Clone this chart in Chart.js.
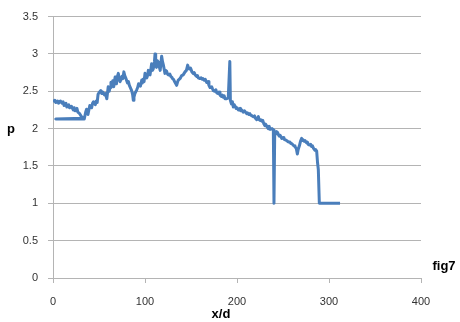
<!DOCTYPE html>
<html>
<head>
<meta charset="utf-8">
<script src="https://cdn.jsdelivr.net/npm/chart.js@4"></script>
<style>
  html,body{margin:0;padding:0;background:#fff;}
  #wrap{width:460px;height:322px;position:relative;}
</style>
</head>
<body>
<div id="wrap"><canvas id="chart" width="460" height="322"></canvas></div>
<script>
// fig7: p along x/d
const xd = [0, 2, 3, 5, 6, 8, 10, 11, 12, 14, 15, 17, 18, 20, 22, 23, 24, 26, 27, 29, 31, 33,
  3, 18, 34, 35.5, 36.5, 38, 39, 40, 42, 43, 44, 46, 47, 48, 49, 50, 52, 53, 54, 56, 57, 58.5, 60, 61, 62, 63, 64, 65, 66, 67.5, 68, 69, 70, 71, 72, 73, 75, 76, 77, 78, 79,
  81, 82, 83, 85.5, 86.5, 87.3, 88, 89, 91, 92, 93, 95, 96.5, 97, 98, 99, 100, 102, 103, 103.6, 104.5, 105.5, 107.2, 108, 109, 110.3, 110.9, 111.6, 112.5, 113.5, 114.5,
  115.5, 116.5, 118.1, 119, 120, 121.7, 122.5, 123.5, 124.5, 125.4, 127, 128, 129, 130, 131, 132.6, 133.5, 134.4, 135.3, 136.2, 138, 139, 139.9, 141.5, 142.5, 143.5,
  145, 146.4, 147, 148, 149.5, 151, 152.5, 153.5, 154.5, 156.2, 157, 158, 159.8, 161, 162, 163, 164, 165.5, 167, 168.5, 169.5, 170.7, 172.5, 173.5, 174.3,
  176, 177, 178, 179.7, 180.5, 181.5, 183.3, 184, 185, 186, 187, 188.8, 190.5, 192.2, 192.8, 194, 195, 196, 197, 198, 199, 200, 201.5, 203.3, 204, 205,
  207, 208, 210.5, 211.5, 213, 214, 215, 216.5, 217.8, 219, 220, 221.5, 223.2, 224, 225, 226, 227, 228, 229, 230.4, 231, 232, 233, 234, 235, 236, 238, 239.5, 240.2, 241,
  242.4, 243, 244, 245, 246, 247, 248.6, 250, 251, 252.5, 253.8, 255, 255.8, 257.5, 258.5, 259.4, 261, 262, 263, 264.5, 265.6, 266.5, 267.8, 269, 270.3,
  271, 272, 273, 274, 275.5, 276.5, 277.5, 279, 280, 281, 282, 283, 284.8, 285.5, 286.6, 287.5, 288.4, 289.5, 300, 312];
const pVals = [2.36, 2.38, 2.35, 2.37, 2.34, 2.37, 2.34, 2.36, 2.31, 2.34, 2.29, 2.32, 2.28, 2.3, 2.25, 2.28, 2.24, 2.27, 2.22, 2.2, 2.16, 2.14,
  2.13, 2.13, 2.13, 2.22, 2.26, 2.19, 2.25, 2.31, 2.28, 2.34, 2.36, 2.32, 2.37, 2.35, 2.46, 2.48, 2.51, 2.47, 2.49, 2.45, 2.47, 2.4, 2.56, 2.5, 2.55, 2.62, 2.58, 2.64, 2.56, 2.69, 2.63, 2.6, 2.7, 2.74, 2.66, 2.63, 2.7, 2.67, 2.76, 2.71, 2.68,
  2.61, 2.63, 2.58, 2.51, 2.46, 2.38, 2.42, 2.47, 2.52, 2.55, 2.6, 2.57, 2.65, 2.61, 2.66, 2.63, 2.74, 2.68, 2.72, 2.78, 2.73, 2.72, 2.87, 2.78, 2.8, 2.9, 3.0, 2.86, 2.82, 2.91, 2.89,
  2.83, 2.78, 2.97, 2.9, 2.85, 2.74, 2.78, 2.77, 2.73, 2.72, 2.73, 2.7, 2.69, 2.67, 2.66, 2.62, 2.6, 2.58, 2.62, 2.65, 2.67, 2.69, 2.71, 2.72, 2.74, 2.76,
  2.78, 2.85, 2.82, 2.8, 2.81, 2.76, 2.74, 2.75, 2.72, 2.7, 2.71, 2.68, 2.67, 2.68, 2.66, 2.67, 2.65, 2.66, 2.62, 2.63, 2.58, 2.55, 2.56, 2.53, 2.51,
  2.5, 2.52, 2.48, 2.47, 2.49, 2.45, 2.43, 2.45, 2.42, 2.44, 2.4, 2.4, 2.41, 2.9, 2.38, 2.33, 2.36, 2.29, 2.32, 2.3, 2.27, 2.28, 2.25, 2.27, 2.24, 2.25,
  2.22, 2.24, 2.2, 2.21, 2.19, 2.2, 2.18, 2.17, 2.16, 2.17, 2.14, 2.12, 2.16, 2.12, 2.11, 2.12, 2.1, 2.11, 2.07, 2.04, 2.06, 2.04, 2.02, 2.0, 2.03, 1.99, 2.0, 1.98, 1.0, 1.96,
  1.93, 1.96, 1.95, 1.92, 1.9, 1.91, 1.87, 1.88, 1.86, 1.85, 1.84, 1.83, 1.82, 1.82, 1.8, 1.8, 1.78, 1.77, 1.76, 1.73, 1.66, 1.72, 1.77, 1.83, 1.87,
  1.84, 1.85, 1.83, 1.84, 1.81, 1.82, 1.79, 1.78, 1.79, 1.76, 1.77, 1.74, 1.71, 1.72, 1.7, 1.55, 1.45, 1.0, 1.0, 1.0];

const xTicks = [0, 100, 200, 300, 400];
const yTicks = [0, 0.5, 1, 1.5, 2, 2.5, 3, 3.5];

const points = xd.map((x, i) => ({x: x, y: pVals[i]}));

const tickFont = {family: 'Liberation Sans', size: 11};
const gridCol = '#b4b4b4';

// axis titles + figure tag, Excel style (loose text)
const labelsPlugin = {
  id: 'looseLabels',
  afterDraw(chart){
    const ctx = chart.ctx;
    const a = chart.chartArea;
    const y = chart.scales.y;
    ctx.save();
    ctx.fillStyle = '#000';
    ctx.font = 'bold 13px "Liberation Sans"';
    ctx.textBaseline = 'middle';
    ctx.textAlign = 'center';
    ctx.fillText('p', 11, y.getPixelForValue(2) + 1);
    ctx.fillText('x/d', 221, 314);
    ctx.fillText('fig7', a.right + 23, y.getPixelForValue(0.15));
    ctx.restore();
  }
};

new Chart(document.getElementById('chart'), {
  type: 'scatter',
  data: {
    datasets: [{
      label: 'p',
      data: points,
      showLine: true,
      borderColor: '#4a7ebb',
      backgroundColor: '#4a7ebb',
      borderWidth: 3,
      pointRadius: 0,
      tension: 0,
      borderJoinStyle: 'round'
    }]
  },
  options: {
    responsive: false,
    animation: false,
    layout: {padding: {left: 0, right: 39, top: 16, bottom: 0}},
    plugins: {legend: {display: false}, tooltip: {enabled: false}},
    scales: {
      x: {
        type: 'linear', min: 0, max: 400,
        afterBuildTicks: s => { s.ticks = xTicks.map(v => ({value: v})); },
        afterFit: s => { s.height = 44; },
        ticks: {font: tickFont, color: '#333', padding: 12, maxRotation: 0, callback: v => String(v)},
        grid: {drawOnChartArea: false, color: gridCol, tickLength: 5},
        border: {color: gridCol}
      },
      y: {
        type: 'linear', min: 0, max: 3.5,
        afterBuildTicks: s => { s.ticks = yTicks.map(v => ({value: v})); },
        afterFit: s => { s.width = 53; },
        ticks: {font: tickFont, color: '#333', padding: 10, callback: v => String(v)},
        grid: {color: gridCol, tickLength: 5},
        border: {color: gridCol}
      }
    }
  },
  plugins: [labelsPlugin]
});
</script>
</body>
</html>
